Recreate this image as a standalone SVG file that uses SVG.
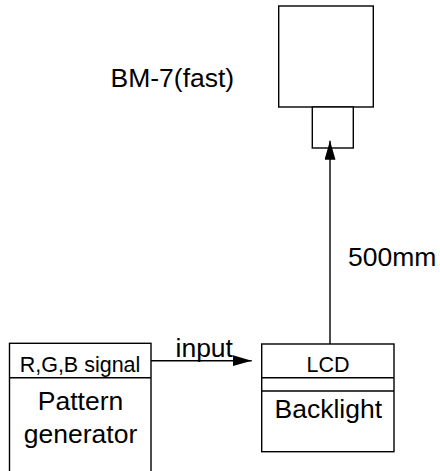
<svg xmlns="http://www.w3.org/2000/svg" width="440" height="471" viewBox="0 0 440 471">
<style>
.b{fill:#fff;stroke:#000;stroke-width:1.4}
.l{fill:none;stroke:#000;stroke-width:1.4}
.t{font-family:"Liberation Sans",Arial,sans-serif;fill:#000}
.big{font-size:26.5px}
.sm{font-size:21.5px}
</style>
<defs>
<marker id="ah" markerWidth="19" markerHeight="12" refX="19" refY="5.5" orient="auto" markerUnits="userSpaceOnUse">
<path d="M0,0 L19,5.5 L0,11 Z" fill="#000"/>
</marker>
</defs>
<rect width="440" height="471" fill="#fff"/>
<g id="bm7">
<rect class="b" x="278.7" y="6" width="94.6" height="101"/>
<rect class="b" x="312.3" y="107" width="41" height="41"/>
<text class="t big" x="110.5" y="87">BM-7(fast)</text>
</g>
<g id="pattern-generator">
<rect class="b" x="9.5" y="343.3" width="141.5" height="140"/>
<line class="l" x1="9.5" y1="377.7" x2="151" y2="377.7"/>
<text class="t sm" x="80" y="371.7" text-anchor="middle">R,G,B signal</text>
<text class="t big" x="80.5" y="410" text-anchor="middle">Pattern</text>
<text class="t big" x="80.5" y="442.7" text-anchor="middle">generator</text>
</g>
<g id="lcd">
<rect class="b" x="261.7" y="344" width="132.3" height="107.7"/>
<line class="l" x1="261.7" y1="377.7" x2="394" y2="377.7"/>
<line class="l" x1="261.7" y1="391" x2="394" y2="391"/>
<text class="t sm" x="328" y="371.7" text-anchor="middle">LCD</text>
<text class="t big" x="328.3" y="417.7" text-anchor="middle">Backlight</text>
</g>
<g id="connectors">
<line class="l" x1="151" y1="360.7" x2="251.7" y2="360.7" marker-end="url(#ah)"/>
<text class="t big" x="175.5" y="357.3">input</text>
<line class="l" x1="330" y1="344" x2="330" y2="140.7" marker-end="url(#ah)"/>
<text class="t big" x="348" y="266">500mm</text>
</g>
</svg>
